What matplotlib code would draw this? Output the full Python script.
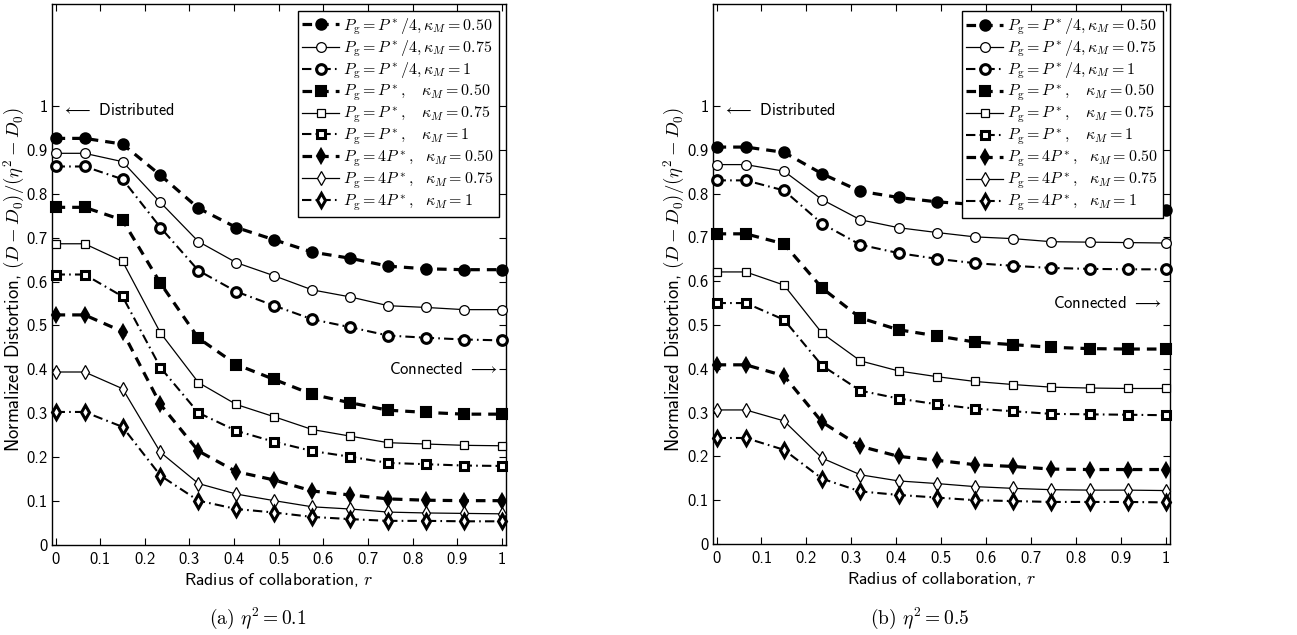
import matplotlib
matplotlib.use('Agg')
import matplotlib.pyplot as plt
import numpy as np

plt.rcParams['font.family'] = ['cmss10', 'DejaVu Sans']
plt.rcParams['mathtext.fontset'] = 'cm'
plt.rcParams['axes.unicode_minus'] = False
plt.rcParams['axes.formatter.use_mathtext'] = False

#
# Data
#
r = [0, 0.065, 0.15, 0.235, 0.32, 0.405, 0.49, 0.575, 0.66, 0.745, 0.83, 0.915, 1.0]

labels = [
    r'$P_{\rm g} = P^*/4, \kappa_M = 0.50$',
    r'$P_{\rm g} = P^*/4, \kappa_M = 0.75$',
    r'$P_{\rm g} = P^*/4, \kappa_M = 1$',
    r'$P_{\rm g} = P^*,\quad \kappa_M = 0.50$',
    r'$P_{\rm g} = P^*,\quad \kappa_M = 0.75$',
    r'$P_{\rm g} = P^*,\quad \kappa_M = 1$',
    r'$P_{\rm g} = 4P^*,\ \ \kappa_M = 0.50$',
    r'$P_{\rm g} = 4P^*,\ \ \kappa_M = 0.75$',
    r'$P_{\rm g} = 4P^*,\ \ \kappa_M = 1$',
]

# eta^2 = 0.1
a_q4_050 = [0.926, 0.926, 0.913, 0.842, 0.767, 0.723, 0.695, 0.667, 0.653, 0.635, 0.629, 0.627, 0.627]
a_q4_075 = [0.892, 0.892, 0.873, 0.780, 0.691, 0.643, 0.613, 0.581, 0.565, 0.545, 0.541, 0.536, 0.536]
a_q4_100 = [0.862, 0.862, 0.833, 0.723, 0.625, 0.577, 0.545, 0.514, 0.496, 0.477, 0.472, 0.468, 0.466]
a_p1_050 = [0.769, 0.769, 0.740, 0.596, 0.471, 0.411, 0.377, 0.343, 0.324, 0.307, 0.302, 0.298, 0.298]
a_p1_075 = [0.686, 0.686, 0.646, 0.483, 0.370, 0.320, 0.292, 0.263, 0.248, 0.233, 0.230, 0.227, 0.226]
a_p1_100 = [0.616, 0.616, 0.566, 0.404, 0.301, 0.260, 0.235, 0.214, 0.201, 0.187, 0.184, 0.181, 0.180]
a_p4_050 = [0.524, 0.524, 0.486, 0.320, 0.214, 0.167, 0.148, 0.123, 0.114, 0.105, 0.102, 0.101, 0.101]
a_p4_075 = [0.394, 0.394, 0.356, 0.211, 0.140, 0.116, 0.101, 0.087, 0.082, 0.075, 0.073, 0.072, 0.071]
a_p4_100 = [0.303, 0.303, 0.269, 0.158, 0.101, 0.082, 0.074, 0.064, 0.059, 0.055, 0.055, 0.054, 0.054]

# eta^2 = 0.5
b_q4_050 = [0.906, 0.906, 0.894, 0.845, 0.805, 0.791, 0.781, 0.775, 0.770, 0.767, 0.765, 0.764, 0.763]
b_q4_075 = [0.866, 0.866, 0.851, 0.786, 0.740, 0.722, 0.711, 0.701, 0.697, 0.690, 0.689, 0.688, 0.687]
b_q4_100 = [0.830, 0.830, 0.807, 0.731, 0.683, 0.664, 0.651, 0.641, 0.635, 0.630, 0.628, 0.627, 0.627]
b_p1_050 = [0.708, 0.708, 0.685, 0.584, 0.516, 0.489, 0.475, 0.461, 0.455, 0.449, 0.446, 0.445, 0.445]
b_p1_075 = [0.621, 0.621, 0.591, 0.481, 0.418, 0.395, 0.382, 0.371, 0.364, 0.358, 0.356, 0.355, 0.355]
b_p1_100 = [0.550, 0.550, 0.512, 0.407, 0.350, 0.332, 0.319, 0.309, 0.303, 0.297, 0.296, 0.295, 0.294]
b_p4_050 = [0.409, 0.409, 0.384, 0.278, 0.223, 0.200, 0.191, 0.181, 0.177, 0.171, 0.170, 0.170, 0.170]
b_p4_075 = [0.306, 0.306, 0.281, 0.196, 0.158, 0.144, 0.138, 0.131, 0.127, 0.124, 0.123, 0.123, 0.122]
b_p4_100 = [0.242, 0.242, 0.215, 0.149, 0.120, 0.112, 0.106, 0.100, 0.098, 0.096, 0.096, 0.096, 0.095]

panel_a = [a_q4_050, a_q4_075, a_q4_100, a_p1_050, a_p1_075, a_p1_100, a_p4_050, a_p4_075, a_p4_100]
panel_b = [b_q4_050, b_q4_075, b_q4_100, b_p1_050, b_p1_075, b_p1_100, b_p4_050, b_p4_075, b_p4_100]

# kappa_M = 0.50 / 0.75 / 1
kappa_style = [
    dict(ls=(0, (3.0, 2.2)), lw=2.3, mfc='k', mec='k', mew=1.5, ms=7.5),
    dict(ls='-', lw=0.9, mfc='white', mec='k', mew=0.9, ms=7),
    dict(ls=(0, (4.5, 2.0, 0.8, 2.0)), lw=1.5, mfc='white', mec='k', mew=2.2, ms=7),
]
markers = ['o', 'o', 'o', 's', 's', 's', 'd', 'd', 'd']
ticklabels = ['0', '0.1', '0.2', '0.3', '0.4', '0.5', '0.6', '0.7', '0.8', '0.9', '1']


def draw(ax, series, connected_y):
    for i, y in enumerate(series):
        st = kappa_style[i % 3]
        ms = st['ms'] - (1 if markers[i] == 's' else 0)
        ax.plot(r, y, color='k', marker=markers[i], ls=st['ls'], lw=st['lw'],
                mfc=st['mfc'], mec=st['mec'], mew=st['mew'], ms=ms,
                label=labels[i], clip_on=False, zorder=3)
    ax.set_xlim(-0.008, 1.009)
    ax.set_ylim(0, 1.232)
    ax.set_xticks(np.arange(0, 1.01, 0.1))
    ax.set_xticklabels(ticklabels)
    ax.set_yticks(np.arange(0, 1.01, 0.1))
    ax.set_yticklabels(ticklabels)
    ax.tick_params(direction='in', top=True, right=True, length=5, width=0.8, labelsize=12)
    ax.tick_params(axis='y', pad=3)
    ax.tick_params(axis='x', pad=5)
    for s in ax.spines.values():
        s.set_linewidth(1.0)
    ax.set_xlabel(r'Radius of collaboration, $r$', fontsize=12.7, labelpad=3)
    ax.set_ylabel(r'Normalized Distortion, $(D-D_0)/(\eta^2-D_0)$', fontsize=13.5)
    ax.yaxis.set_label_coords(-0.056, 0.49)
    ax.text(0.015, 0.99, r'$\longleftarrow$ Distributed', fontsize=11.7, va='center', ha='left')
    ax.text(0.99, connected_y, r'Connected $\longrightarrow$', fontsize=12, va='center', ha='right')
    leg = ax.legend(loc='upper right', fontsize=11.5, numpoints=1, fancybox=False,
                    edgecolor='k', framealpha=1, handlelength=2.3, handletextpad=0.25,
                    labelspacing=0.1, borderpad=0.3, borderaxespad=0.45)
    leg.get_frame().set_linewidth(1.0)
    leg.set_zorder(5)


fig = plt.figure(figsize=(12.97, 6.35), dpi=100)
ax1 = fig.add_axes([0.0401, 0.1417, 0.350, 0.852])
ax2 = fig.add_axes([0.5497, 0.1433, 0.3524, 0.850])

draw(ax1, panel_a, 0.40)
draw(ax2, panel_b, 0.55)

fig.text(258 / 1297, 1 - 618 / 635, r'(a) $\eta^2 = 0.1$', family='cmr10', fontsize=14, ha='center', va='center')
fig.text(920 / 1297, 1 - 618 / 635, r'(b) $\eta^2 = 0.5$', family='cmr10', fontsize=14, ha='center', va='center')

fig.savefig('out.png', dpi=100)
